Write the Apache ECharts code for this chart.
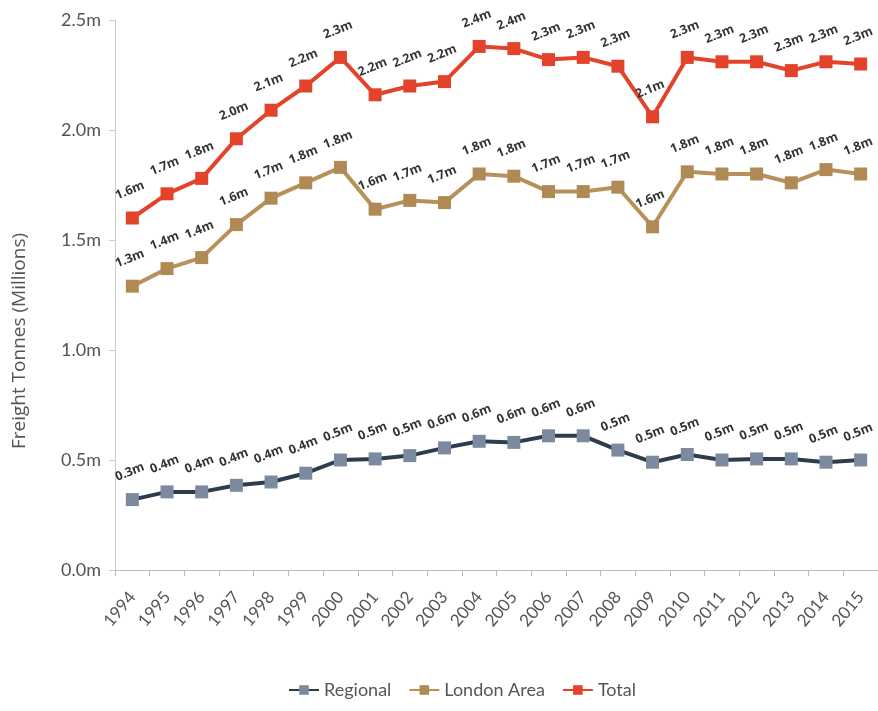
<!DOCTYPE html>
<html>
<head>
<meta charset="utf-8">
<script src="https://cdn.jsdelivr.net/npm/echarts@6/dist/echarts.min.js"></script>
<style>
  html, body { margin: 0; padding: 0; background: #fff; }
  #chart { width: 878px; height: 711px; }
</style>
</head>
<body>
<div id="chart"></div>
<script>
// freight tonnes in millions
const years = ['1994','1995','1996','1997','1998','1999','2000','2001','2002','2003','2004',
               '2005','2006','2007','2008','2009','2010','2011','2012','2013','2014','2015'];
const regional = [0.32,0.355,0.355,0.385,0.40,0.44,0.50,0.505,0.52,0.555,0.585,
                  0.58,0.61,0.61,0.545,0.49,0.525,0.50,0.505,0.505,0.49,0.50];
const london = [1.29,1.37,1.42,1.57,1.69,1.76,1.83,1.64,1.68,1.67,1.80,
                1.79,1.72,1.72,1.74,1.56,1.81,1.80,1.80,1.76,1.82,1.80];
const total = [1.60,1.71,1.78,1.96,2.09,2.20,2.33,2.16,2.20,2.22,2.38,
               2.37,2.32,2.33,2.29,2.06,2.33,2.31,2.31,2.27,2.31,2.30];

const font = 'Lato, "Open Sans", sans-serif';

function makeSeries(name, data, lineColor, markColor) {
  return {
    name: name,
    type: 'line',
    data: data,
    symbol: 'rect',
    symbolSize: 13,
    lineStyle: { color: lineColor, width: 4 },
    itemStyle: { color: markColor },
    label: {
      show: true,
      position: 'top',
      distance: 15,
      rotate: 22,
      color: '#333',
      fontSize: 12.5,
      fontWeight: 'bold',
      fontFamily: '"Open Sans", sans-serif',
      formatter: p => p.value.toFixed(1) + 'm'
    }
  };
}

let chart = echarts.init(document.getElementById('chart'));
chart.setOption({
  animation: false,
  grid: { left: 115, right: -2, top: 20, bottom: 141 },
  legend: {
    bottom: 7,
    left: 283,
    itemWidth: 30,
    itemHeight: 12,
    itemGap: 17,
    textStyle: { color: '#555', fontSize: 18, fontFamily: font },
    data: ['Regional', 'London Area', 'Total']
  },
  xAxis: {
    type: 'category',
    data: years,
    boundaryGap: true,
    axisLine: { lineStyle: { color: '#bbb' } },
    axisTick: { show: true, length: 6, lineStyle: { color: '#bbb' } },
    axisLabel: { rotate: 50, color: '#555', fontSize: 17, fontFamily: font, margin: 24 }
  },
  yAxis: {
    type: 'value',
    min: 0,
    max: 2.5,
    interval: 0.5,
    name: 'Freight Tonnes (Millions)',
    nameLocation: 'middle',
    nameGap: 86,
    nameTextStyle: {
      color: '#555', fontSize: 19, fontFamily: '"Open Sans", sans-serif',
      padding: [0, 92, 0, 0]
    },
    axisLine: { show: true, lineStyle: { color: '#ccc' } },
    axisTick: { show: true, length: 6, lineStyle: { color: '#ccc' } },
    splitLine: { show: false },
    axisLabel: {
      color: '#555', fontSize: 18, fontFamily: font, margin: 14,
      formatter: v => v.toFixed(1) + 'm'
    }
  },
  series: [
    makeSeries('Regional', regional, '#303c4e', '#7c8aa0'),
    makeSeries('London Area', london, '#b8915a', '#b08a55'),
    makeSeries('Total', total, '#e2432a', '#e2432a')
  ]
});
</script>
</body>
</html>
